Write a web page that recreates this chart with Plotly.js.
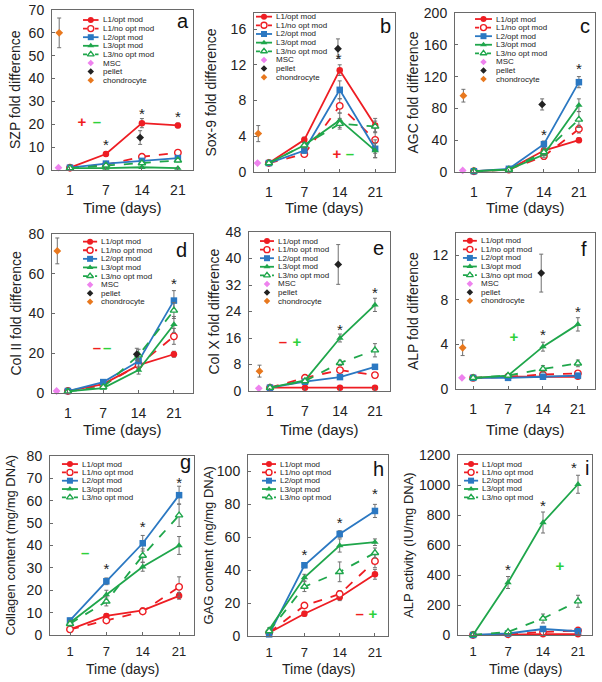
<!DOCTYPE html>
<html>
<head>
<meta charset="utf-8">
<script src="https://cdn.plot.ly/plotly-3.0.1.min.js"></script>
<style>
  html, body { margin: 0; padding: 0; background: #fff; }
  #fig { width: 602px; height: 682px; }
</style>
</head>
<body>
<div id="fig"></div>
<script>
// --- Datos ---
const DAYS = ['1', '7', '14', '21'];
const DAY_POS = [1, 2, 3, 4];
const SERIES_NAMES = ['L1/opt mod', 'L1/no opt mod', 'L2/opt mod', 'L3/opt mod', 'L3/no opt mod'];
const REF_NAMES = ['MSC', 'pellet', 'chondrocyte'];
const REF_X = [0.68, 2.95, 0.7];

// orden de series: L1/opt, L1/no opt, L2/opt, L3/opt, L3/no opt
const SZP = [[1, 7, 20.5, 19.5], [1, 2.3, 5.8, 7.6], [1, 2.8, 4, 5.2], [0.8, 0.8, 1.2, 0.8], [0.8, 2, 3, 4.2]];
const SZP_ERR = [[0.3, 1, 2, 1], [0.2, 0.5, 0.8, 0.8], [0.2, 0.4, 0.6, 0.8], [0.1, 0.2, 0.3, 0.2], [0.1, 0.4, 0.6, 0.6]];
const SZP_REF = [1, 14.2, 60];
const SZP_REF_ERR = [0, 3, 6.5];
const SZP_STAR_X = [2, 3, 4];
const SZP_STAR_Y = [10.2, 24, 22.7];
const SZP_SIGNS = [['+', 1.33, 20.4, 'r'], ['-', 1.75, 20.4, 'g']];

const SOX9 = [[1, 3.6, 11.4, 5.2], [1, 2.0, 7.4, 3.6], [1, 2.4, 9.2, 2.6], [1, 3.0, 5.8, 2.4], [1, 3.0, 5.4, 5.1]];
const SOX9_ERR = [[0.1, 0.3, 0.6, 0.8], [0.1, 0.2, 0.8, 1.5], [0.1, 0.3, 1.0, 1], [0.1, 0.3, 0.8, 0.8], [0.1, 0.3, 0.6, 0.6]];
const SOX9_REF = [1, 13.8, 4.3];
const SOX9_REF_ERR = [0, 1.1, 0.9];
const SOX9_STAR_X = [2.97];
const SOX9_STAR_Y = [12.5];
const SOX9_SIGNS = [['+', 2.92, 1.9, 'r'], ['-', 3.29, 1.9, 'g']];

const AGC = [[1, 3, 27, 40], [1, 3, 20, 54], [1, 4, 35, 113], [1, 3, 22, 84], [1, 3, 25, 66]];
const AGC_ERR = [[0.3, 0.5, 3, 3], [0.3, 0.5, 4, 5], [0.3, 0.5, 4, 7], [0.3, 0.5, 4, 8], [0.3, 0.5, 4, 10]];
const AGC_REF = [2, 85, 96];
const AGC_REF_ERR = [0, 7, 8];
const AGC_STAR_X = [3, 4];
const AGC_STAR_Y = [45, 128];
const AGC_SIGNS = [];

const COL2 = [[1, 4.5, 14, 19.5], [1, 4, 14, 28.5], [1, 5.5, 16, 46.5], [0.8, 2.5, 11.5, 34.5], [0.8, 3, 19, 41.5]];
const COL2_ERR = [[0.2, 0.5, 2, 1.5], [0.2, 0.5, 2, 4], [0.2, 0.6, 3, 5], [0.2, 0.4, 2, 4], [0.2, 0.5, 3, 4]];
const COL2_REF = [1, 19.5, 71.5];
const COL2_REF_ERR = [0, 3, 6.5];
const COL2_STAR_X = [4];
const COL2_STAR_Y = [54];
const COL2_SIGNS = [['-', 1.82, 22.1, 'r'], ['-', 2.11, 22.1, 'g']];

const COLX = [[1, 1, 1, 1], [1, 4, 6.3, 4.8], [1, 2.8, 4.2, 7.3], [1, 3.2, 16, 26], [1, 3, 8.5, 12.3]];
const COLX_ERR = [[0.1, 0.1, 0.1, 0.1], [0.1, 0.3, 0.6, 0.6], [0.1, 0.3, 0.4, 0.5], [0.1, 0.3, 1.2, 2], [0.1, 0.3, 0.8, 2]];
const COLX_REF = [0.8, 38.2, 6];
const COLX_REF_ERR = [0, 6, 1.8];
const COLX_STAR_X = [3, 4];
const COLX_STAR_Y = [18.1, 29.2];
const COLX_SIGNS = [['-', 1.37, 14.4, 'r'], ['+', 1.77, 14.4, 'g']];

const ALP = [[1, 1.1, 1.1, 1.1], [1, 1.1, 1.3, 1.4], [1, 1.0, 1.1, 1.2], [1, 1.2, 3.8, 5.8], [1, 1.2, 1.8, 2.3]];
const ALP_ERR = [[0.05, 0.1, 0.1, 0.1], [0.05, 0.1, 0.15, 0.2], [0.05, 0.1, 0.1, 0.1], [0.05, 0.1, 0.4, 0.6], [0.05, 0.1, 0.3, 0.3]];
const ALP_REF = [1, 10.4, 3.7];
const ALP_REF_ERR = [0, 1.7, 0.7];
const ALP_STAR_X = [3, 4];
const ALP_STAR_Y = [4.76, 6.8];
const ALP_SIGNS = [['+', 2.17, 4.55, 'g']];

const COLL = [[2.5, 8.5, 11, 17.5], [2.5, 6.5, 10.5, 21.5], [6.5, 24, 41, 62.5], [5.5, 18, 30.5, 40], [5, 15, 35.5, 53.5]];
const COLL_ERR = [[1, 1, 1, 1.5], [1, 1, 1, 4.5], [1, 1.5, 3.5, 4], [1, 2, 2, 4], [1, 2, 3, 5]];
const COLL_STAR_X = [2, 3, 4];
const COLL_STAR_Y = [29, 47.5, 67.5];
const COLL_SIGNS = [['-', 1.42, 36.2, 'g']];

const GAG = [[2, 13.5, 23.5, 37.5], [2, 18.5, 25.5, 45.5], [1, 43, 62, 76], [4, 35.5, 55, 57], [3, 30, 39, 50.5]];
const GAG_ERR = [[1, 1.5, 2, 3], [1, 1.5, 2, 4], [1, 1.5, 2, 4], [1, 2, 4, 2], [1, 3, 6, 3]];
const GAG_STAR_X = [2, 3, 4];
const GAG_STAR_Y = [48.2, 68, 85.3];
const GAG_SIGNS = [['-', 3.57, 12.8, 'r'], ['+', 3.94, 12.8, 'g']];

const ALPACT = [[0, 5, 5, 5], [0, 5, 20, 30], [0, 10, 40, 25], [0, 350, 750, 1005], [0, 20, 110, 225]];
const ALPACT_ERR = [[5, 5, 5, 5], [5, 5, 10, 10], [5, 5, 10, 10], [5, 40, 70, 60], [5, 10, 30, 40]];
const ALPACT_STAR_X = [2, 3, 3.88];
const ALPACT_STAR_Y = [428, 851, 1104];
const ALPACT_SIGNS = [['+', 3.48, 455, 'g']];

// --- Estilos ---
const W = 602, H = 682;
const FONT = 'Liberation Sans, Arial, sans-serif';
const RED = '#ee1d23', BLUE = '#2b78c2', GREEN = '#1fa64b';
const SIGN_COLOR = { r: '#f01e1e', g: '#2ed13a' };
const STYLE = [
  { color: RED, dash: 'solid', symbol: 'circle', open: false },
  { color: RED, dash: 'dash', symbol: 'circle', open: true },
  { color: BLUE, dash: 'solid', symbol: 'square', open: false },
  { color: GREEN, dash: 'solid', symbol: 'triangle-up', open: false },
  { color: GREEN, dash: 'dash', symbol: 'triangle-up', open: true }
];
const REF_COLORS = ['#ee82ee', '#222222', '#e8781e'];
const ERR_COLOR = '#707070';

// box: [izq, arriba, der, abajo] en px; leg: [x0, x1, xTexto, yPrimero (fracción), paso px]
const PANELS = [
  { vals: SZP, err: SZP_ERR, ref: SZP_REF, refErr: SZP_REF_ERR, sx: SZP_STAR_X, sy: SZP_STAR_Y, signs: SZP_SIGNS,
    ytitle: 'SZP fold difference', letter: 'a', box: [52, 10, 193, 170], xr: [0.5, 4.42], yr: [0, 70], dtick: 10,
    leg: [0.22, 0.33, 0.345, 0.9375, 8.6], ytx: 15, xty: 208, lpos: [0.93, 0.93] },
  { vals: SOX9, err: SOX9_ERR, ref: SOX9_REF, refErr: SOX9_REF_ERR, sx: SOX9_STAR_X, sy: SOX9_STAR_Y, signs: SOX9_SIGNS,
    ytitle: 'Sox-9 fold difference', letter: 'b', box: [254, 13, 395, 172], xr: [0.58, 4.56], yr: [0, 17.8], dtick: 4,
    leg: [0.014, 0.128, 0.142, 0.977, 8.66], ytx: 210, xty: 208, lpos: [0.93, 0.92] },
  { vals: AGC, err: AGC_ERR, ref: AGC_REF, refErr: AGC_REF_ERR, sx: AGC_STAR_X, sy: AGC_STAR_Y, signs: AGC_SIGNS,
    ytitle: 'AGC fold difference', letter: 'c', box: [455, 13, 595, 172], xr: [0.46, 4.46], yr: [0, 200], dtick: 40,
    leg: [0.143, 0.264, 0.278, 0.962, 8.57], ytx: 412, xty: 208, lpos: [0.93, 0.92] },
  { vals: COL2, err: COL2_ERR, ref: COL2_REF, refErr: COL2_REF_ERR, sx: COL2_STAR_X, sy: COL2_STAR_Y, signs: COL2_SIGNS,
    ytitle: 'Col II fold difference', letter: 'd', box: [52, 234, 193, 393], xr: [0.55, 4.54], yr: [0, 80], dtick: 20,
    leg: [0.22, 0.32, 0.333, 0.952, 8.6], ytx: 15, xty: 429, lpos: [0.92, 0.9] },
  { vals: COLX, err: COLX_ERR, ref: COLX_REF, refErr: COLX_REF_ERR, sx: COLX_STAR_X, sy: COLX_STAR_Y, signs: COLX_SIGNS,
    ytitle: 'Col X fold difference', letter: 'e', box: [249, 232, 390, 391], xr: [0.4, 4.43], yr: [0, 48], dtick: 8,
    leg: [0.078, 0.177, 0.19, 0.943, 8.57], ytx: 213, xty: 429, lpos: [0.92, 0.9] },
  { vals: ALP, err: ALP_ERR, ref: ALP_REF, refErr: ALP_REF_ERR, sx: ALP_STAR_X, sy: ALP_STAR_Y, signs: ALP_SIGNS,
    ytitle: 'ALP fold difference', letter: 'f', box: [456, 233, 595, 389], xr: [0.51, 4.49], yr: [0, 14], dtick: 4,
    leg: [0.05, 0.15, 0.162, 0.95, 8.57], ytx: 413, xty: 429, lpos: [0.92, 0.9] },
  { vals: COLL, err: COLL_ERR, ref: null, sx: COLL_STAR_X, sy: COLL_STAR_Y, signs: COLL_SIGNS,
    ytitle: 'Collagen content (mg/mg DNA)', letter: 'g', box: [50, 456, 194, 635], xr: [0.45, 4.41], yr: [0, 80], dtick: 10,
    leg: [0.083, 0.194, 0.208, 0.955, 8.33], ytx: 10, xty: 669, lpos: [0.94, 0.965] },
  { vals: GAG, err: GAG_ERR, ref: null, sx: GAG_STAR_X, sy: GAG_STAR_Y, signs: GAG_SIGNS,
    ytitle: 'GAG content (mg/mg DNA)', letter: 'h', box: [248, 455, 388, 636], xr: [0.4, 4.37], yr: [0, 110], dtick: 20,
    leg: [0.1, 0.2, 0.214, 0.95, 8.33], ytx: 208, xty: 669, lpos: [0.93, 0.92] },
  { vals: ALPACT, err: ALPACT_ERR, ref: null, sx: ALPACT_STAR_X, sy: ALPACT_STAR_Y, signs: ALPACT_SIGNS,
    ytitle: 'ALP activity (IU/mg DNA)', letter: 'i', box: [458, 455, 592, 635], xr: [0.57, 4.4], yr: [0, 1200], dtick: 200,
    leg: [0.045, 0.15, 0.164, 0.95, 8.33], ytx: 408, xty: 669, lpos: [0.96, 0.93] }
];

const AX = {
  showline: true, mirror: true, linecolor: '#6a6a6a', linewidth: 1,
  ticks: 'inside', ticklen: 3, tickcolor: '#6a6a6a',
  showgrid: false, zeroline: false, fixedrange: true,
  tickfont: { family: FONT, size: 14, color: '#222' }
};

const traces = [];
const annotations = [];
const layout = {
  width: W, height: H,
  margin: { l: 0, r: 0, t: 0, b: 0 },
  paper_bgcolor: '#fff', plot_bgcolor: '#fff',
  showlegend: false,
  font: { family: FONT, color: '#222' }
};

function markerOf(st, size) {
  return {
    symbol: st.symbol, size: size,
    color: st.open ? '#fff' : st.color,
    line: { color: st.color, width: st.open ? 1.4 : 0 }
  };
}

PANELS.forEach((p, k) => {
  const n = k === 0 ? '' : String(k + 1);
  const xa = 'x' + n, ya = 'y' + n;
  const [l, t, r, b] = p.box;
  const plotH = b - t;
  const lastRow = k >= 6;

  layout['xaxis' + n] = Object.assign({}, AX, {
    domain: [l / W, r / W], anchor: ya, range: p.xr,
    tickmode: 'array', tickvals: DAY_POS, ticktext: DAYS,
    ticklabelstandoff: lastRow ? 4 : 7,
    tickfont: { family: FONT, size: lastRow ? 13 : 14, color: '#222' }
  });
  layout['yaxis' + n] = Object.assign({}, AX, {
    domain: [1 - b / H, 1 - t / H], anchor: xa, range: p.yr,
    tick0: 0, dtick: p.dtick, ticklabelstandoff: 4
  });

  // series principales
  p.vals.forEach((v, s) => {
    const st = STYLE[s];
    traces.push({
      type: 'scatter', mode: 'lines+markers', x: DAY_POS, y: v, xaxis: xa, yaxis: ya,
      name: SERIES_NAMES[s], cliponaxis: false,
      line: { color: st.color, width: 1.8, dash: st.dash },
      marker: markerOf(st, 6.5),
      error_y: { type: 'data', array: p.err[s], color: ERR_COLOR, thickness: 1, width: 2 }
    });
  });

  // MSC / pellet / condrocito
  if (p.ref) {
    p.ref.forEach((v, j) => {
      traces.push({
        type: 'scatter', mode: 'markers', x: [REF_X[j]], y: [v], xaxis: xa, yaxis: ya,
        name: REF_NAMES[j], cliponaxis: false,
        marker: { symbol: 'diamond', size: 6, color: REF_COLORS[j] },
        error_y: { type: 'data', array: [p.refErr[j]], color: ERR_COLOR, thickness: 1, width: 2, visible: p.refErr[j] > 0 }
      });
    });
  }

  // asteriscos
  traces.push({
    type: 'scatter', mode: 'text', x: p.sx, y: p.sy, xaxis: xa, yaxis: ya,
    text: p.sx.map(() => '*'), textposition: 'middle center', cliponaxis: false,
    textfont: { family: FONT, size: 15, color: '#222' }
  });

  // signos + / -
  p.signs.forEach(sg => {
    traces.push({
      type: 'scatter', mode: 'text', x: [sg[1]], y: [sg[2]], xaxis: xa, yaxis: ya,
      text: [sg[0] === '+' ? '<b>+</b>' : '<b>–</b>'], textposition: 'middle center', cliponaxis: false,
      textfont: { family: FONT, size: 15, color: SIGN_COLOR[sg[3]] }
    });
  });

  // leyenda propia (compacta)
  const [lx0, lx1, ltx, ly0, lstep] = p.leg;
  const dx = p.xr[1] - p.xr[0], dy = p.yr[1] - p.yr[0];
  const names = p.ref ? SERIES_NAMES.concat(REF_NAMES) : SERIES_NAMES;
  names.forEach((nm, j) => {
    const fy = ly0 - j * lstep / plotH;
    const yy = p.yr[0] + fy * dy;
    const x0 = p.xr[0] + lx0 * dx, x1 = p.xr[0] + lx1 * dx, xm = (x0 + x1) / 2;
    if (j < SERIES_NAMES.length) {
      const st = STYLE[j];
      traces.push({
        type: 'scatter', mode: 'lines', x: [x0, x1], y: [yy, yy], xaxis: xa, yaxis: ya, cliponaxis: false,
        line: { color: st.color, width: 1.8, dash: st.open ? '4px,2px' : 'solid' }, hoverinfo: 'skip'
      });
      traces.push({
        type: 'scatter', mode: 'markers', x: [xm], y: [yy], xaxis: xa, yaxis: ya, cliponaxis: false,
        marker: markerOf(st, 6), hoverinfo: 'skip'
      });
    } else {
      traces.push({
        type: 'scatter', mode: 'markers', x: [xm], y: [yy], xaxis: xa, yaxis: ya, cliponaxis: false,
        marker: { symbol: 'diamond', size: 5, color: REF_COLORS[j - SERIES_NAMES.length] }, hoverinfo: 'skip'
      });
    }
    annotations.push({
      xref: xa + ' domain', yref: ya + ' domain', x: ltx, y: fy,
      xanchor: 'left', yanchor: 'middle', showarrow: false, text: nm,
      font: { family: FONT, size: 8, color: '#222' }
    });
  });

  // letra del panel
  annotations.push({
    xref: xa + ' domain', yref: ya + ' domain', x: p.lpos[0], y: p.lpos[1],
    xanchor: 'center', yanchor: 'middle', showarrow: false, text: p.letter,
    font: { family: FONT, size: 20, color: '#111' }
  });

  // títulos de ejes
  annotations.push({
    xref: 'paper', yref: 'paper', x: p.ytx / W, y: 1 - (t + b) / 2 / H,
    xanchor: 'center', yanchor: 'middle', textangle: -90, showarrow: false, text: p.ytitle,
    font: { family: FONT, size: lastRow ? 13 : 14, color: '#222' }
  });
  annotations.push({
    xref: 'paper', yref: 'paper', x: (l + r) / 2 / W, y: 1 - p.xty / H,
    xanchor: 'center', yanchor: 'middle', showarrow: false, text: 'Time (days)',
    font: { family: FONT, size: lastRow ? 14 : 15, color: '#222' }
  });
});

layout.annotations = annotations;

Plotly.newPlot('fig', traces, layout, { displayModeBar: false, staticPlot: true });
</script>
</body>
</html>
